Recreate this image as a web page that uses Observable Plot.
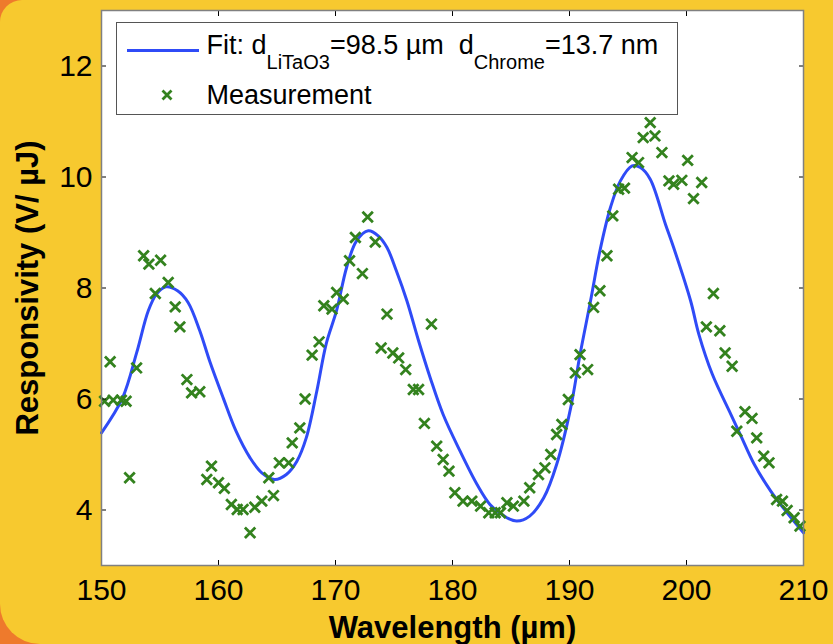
<!DOCTYPE html>
<html>
<head>
<meta charset="utf-8">
<script src="https://cdn.jsdelivr.net/npm/d3@7"></script>
<script src="https://cdn.jsdelivr.net/npm/@observablehq/plot@0.6"></script>
<style>
  html, body { margin: 0; padding: 0; background: #EE7A2C; }
  #card {
    position: relative; width: 833px; height: 644px; overflow: hidden;
    background: #F7C92F; border-radius: 22px 0 0 40px;
    font-family: "Liberation Sans", Arial, sans-serif; color: #000;
  }
  #chart { position: absolute; left: 0; top: 0; }
  #legend {
    position: absolute; left: 116px; top: 22px; width: 560px; height: 91px;
    background: #fff; border: 1.5px solid #555;
  }
  #legend .txt { position: absolute; font-size: 27px; line-height: 27px; white-space: nowrap; }
  #legend .sub { font-size: 20px; vertical-align: -15px; }
  #legend .swatch-line { position: absolute; left: 9.5px; top: 26px; width: 72px; height: 3px; background: #2F4BF7; }
  #legend svg { position: absolute; left: 42.5px; top: 64.5px; }
</style>
</head>
<body>
<div id="card">
  <div id="chart"></div>
  <div id="legend">
    <div class="swatch-line"></div>
    <div class="txt" style="left:89.5px; top:8.5px;">Fit: d<span class="sub">LiTaO3</span>=98.5 µm&nbsp; d<span class="sub">Chrome</span>=13.7 nm</div>
    <svg width="14" height="14" viewBox="-7 -7 14 14"><path d="M-4.5,-4.5L4.5,4.5M-4.5,4.5L4.5,-4.5" stroke="#33821E" stroke-width="2.8" fill="none"/></svg>
    <div class="txt" style="left:89.5px; top:58.5px;">Measurement</div>
  </div>
</div>
<script>
// Measured responsivity (V/µJ) versus wavelength (µm)
const measWavelength = [
  150.26, 150.74, 151.0, 151.7, 152.1, 152.4, 153.0, 153.6, 154.05, 154.6,
  155.05, 155.7, 156.3, 156.7, 157.3, 157.7, 158.4, 159.0, 159.4, 160.0,
  160.5, 161.1, 161.6, 162.1, 162.7, 163.1, 163.7, 164.3, 164.7, 165.2,
  166.0, 166.3, 166.95, 167.4, 168.0, 168.6, 169.0, 169.7, 170.1, 170.66,
  171.2, 171.7, 172.3, 172.75, 173.4, 173.9, 174.4, 174.9, 175.4, 176.0,
  176.65, 177.1, 177.6, 178.2, 178.65, 179.2, 179.7, 180.2, 180.9, 181.65,
  182.4, 183.1, 183.65, 184.1, 184.65, 185.2, 186.1, 186.6, 187.35, 187.9,
  188.4, 188.9, 189.35, 189.9, 190.5, 190.9, 191.55, 192.06, 192.6, 193.2,
  193.7, 194.2, 194.7, 195.35, 195.9, 196.3, 196.9, 197.3, 197.9, 198.5,
  198.9, 199.6, 200.1, 200.6, 201.3, 201.7, 202.3, 202.85, 203.3, 203.9,
  204.3, 205.0, 205.6, 206.0, 206.6, 207.05, 207.7, 208.2, 208.6, 209.2,
  209.7
];
const measResponsivity = [
  5.96, 6.67, 5.98, 5.98, 5.96, 4.58, 6.56, 8.58, 8.43, 7.90,
  8.50, 8.10, 7.66, 7.30, 6.35, 6.11, 6.13, 4.55, 4.79, 4.49,
  4.39, 4.10, 4.01, 4.01, 3.59, 4.05, 4.16, 4.58, 4.26, 4.85,
  4.85, 5.21, 5.48, 6.00, 6.79, 7.03, 7.68, 7.62, 7.92, 7.80,
  8.49, 8.91, 8.26, 9.28, 8.83, 6.92, 7.53, 6.83, 6.74, 6.53,
  6.17, 6.17, 5.56, 7.35, 5.15, 4.91, 4.70, 4.31, 4.16, 4.16,
  4.07, 3.95, 3.95, 3.95, 4.13, 4.07, 4.16, 4.40, 4.64, 4.76,
  5.00, 5.36, 5.54, 5.99, 6.47, 6.80, 6.53, 7.65, 7.95, 8.58,
  9.30, 9.78, 9.80, 10.35, 10.26, 10.71, 10.98, 10.74, 10.44, 9.93,
  9.87, 9.94, 10.30, 9.61, 9.90, 7.30, 7.90, 7.23, 6.83, 6.59,
  5.42, 5.77, 5.65, 5.30, 4.97, 4.85, 4.19, 4.16, 3.99, 3.86,
  3.71
];

// Fitted model curve
const fitWavelength = [
  150.0, 151.8, 153.0, 154.0, 154.7, 155.5, 156.5, 157.4, 158.4, 159.25,
  160.4, 161.5, 162.7, 163.7, 164.8, 165.8, 166.7, 167.5, 168.4, 169.2,
  170.1, 170.95, 171.8, 172.8, 173.65, 174.4, 175.2, 176.1, 177.1, 178.1,
  179.2, 180.65, 182.1, 183.2, 184.1, 184.65, 185.5, 186.6, 187.8, 188.9,
  190.1, 190.9, 191.8, 192.6, 193.5, 194.35, 195.35, 196.06, 196.9, 198.2,
  198.9, 200.35, 201.05, 202.2, 203.8, 204.6, 205.8, 207.2, 208.6, 210.0
];
const fitResponsivity = [
  5.39, 6.02, 6.83, 7.59, 7.89, 8.02, 7.95, 7.74, 7.23, 6.68,
  6.02, 5.42, 4.94, 4.67, 4.55, 4.64, 4.88, 5.30, 6.14, 6.99,
  7.60, 8.37, 8.85, 9.03, 8.94, 8.73, 8.31, 7.77, 7.05, 6.38,
  5.72, 5.06, 4.46, 4.10, 3.94, 3.86, 3.80, 3.89, 4.22, 4.82,
  5.84, 6.80, 7.77, 8.67, 9.45, 9.93, 10.20, 10.17, 9.96, 9.15,
  8.73, 7.77, 7.17, 6.45, 5.72, 5.36, 4.82, 4.34, 3.95, 3.59
];

const xTicks = [150, 160, 170, 180, 190, 200, 210];
const yTicks = [4, 6, 8, 10, 12];
const xLabel = "Wavelength (µm)";
const yLabel = "Responsivity (V/ µJ)";

const measurement = measWavelength.map((w, i) => ({w, r: measResponsivity[i]}));
const fit = fitWavelength.map((w, i) => ({w, r: fitResponsivity[i]}));

const blank = () => "";

const chart = Plot.plot({
  width: 833,
  height: 644,
  marginTop: 10,
  marginRight: 30,
  marginBottom: 79,
  marginLeft: 101,
  style: {background: "transparent", fontFamily: "'Liberation Sans', Arial, sans-serif", color: "#000"},
  x: {domain: [150, 210]},
  y: {domain: [3, 13]},
  marks: [
    Plot.frame({fill: "white"}),
    Plot.line(fit, {x: "w", y: "r", stroke: "#2F4BF7", strokeWidth: 3, curve: "catmull-rom"}),
    Plot.dot(measurement, {x: "w", y: "r", symbol: "times", r: 4.8, stroke: "#33821E", strokeWidth: 2.8}),
    // tick labels
    Plot.axisX({ticks: xTicks, tickSize: 0, tickPadding: 13, fontSize: 30, label: null}),
    Plot.axisY({ticks: yTicks, tickSize: 0, tickPadding: 9, fontSize: 30, label: null}),
    // inward tick marks on all four sides
    Plot.axisX({ticks: xTicks, anchor: "bottom", tickSize: -5, tickFormat: blank, label: null}),
    Plot.axisX({ticks: xTicks, anchor: "top", tickSize: -5, tickFormat: blank, label: null}),
    Plot.axisY({ticks: yTicks, anchor: "left", tickSize: -5, tickFormat: blank, label: null}),
    Plot.axisY({ticks: yTicks, anchor: "right", tickSize: -5, tickFormat: blank, label: null}),
    Plot.frame({stroke: "#808080", strokeWidth: 1.5}),
    // axis titles
    Plot.text([xLabel], {frameAnchor: "bottom", dy: 63, text: d => d, fontSize: 31, fontWeight: "bold", textAnchor: "middle", lineAnchor: "middle"}),
    Plot.text([yLabel], {frameAnchor: "left", dx: -73, text: d => d, fontSize: 31, fontWeight: "bold", rotate: -90, textAnchor: "middle", lineAnchor: "middle"})
  ]
});

document.getElementById("chart").appendChild(chart);
</script>
</body>
</html>
